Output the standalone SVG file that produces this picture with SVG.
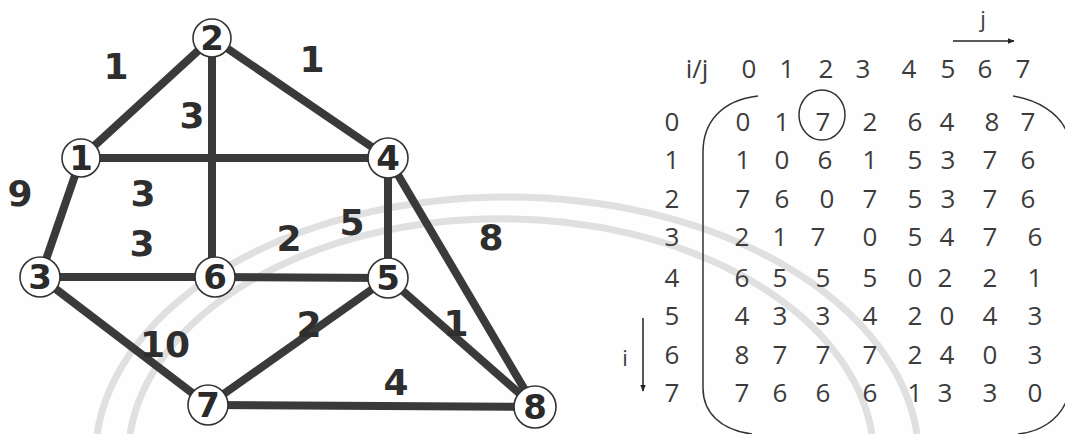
<svg xmlns="http://www.w3.org/2000/svg" width="1065" height="434" viewBox="0 0 1065 434">
<style>
.bg{fill:#fefefe}
.wm{fill:none;stroke:#e0e0e0;stroke-width:7}
.e{stroke:#3a3a3a;stroke-width:8;stroke-linecap:butt;fill:none}
.n circle{fill:#ffffff;stroke:#333;stroke-width:1.6}
.nt{font-family:"DejaVu Sans",sans-serif;font-weight:bold;font-size:34px;fill:#2a2a2a;text-anchor:middle}
.el{font-family:"DejaVu Sans",sans-serif;font-weight:bold;font-size:36px;fill:#2e2e2e;text-anchor:middle}
.m{font-family:"Open Sans","Noto Sans",sans-serif;font-size:26px;fill:#3c3c3c;text-anchor:middle}
.br{fill:none;stroke:#333;stroke-width:1.5}
</style>
<defs>
<marker id="ah" viewBox="0 0 10 10" refX="9" refY="5" markerWidth="7" markerHeight="7" orient="auto" markerUnits="userSpaceOnUse">
<path d="M0,1 L10,5 L0,9 z" fill="#222"/>
</marker>
</defs>
<rect class="bg" x="0" y="0" width="1065" height="434"/>
<g id="watermark">
<path class="wm" d="M 97 434 A 412 263 0 0 1 917 434"/>
<path class="wm" d="M 130 434 A 373 240 0 0 1 872 434"/>
</g>
<g id="connectors">
<line class="e" x1="81" y1="158" x2="212" y2="38"/>
<line class="e" x1="212" y1="38" x2="388" y2="158"/>
<line class="e" x1="212" y1="38" x2="212" y2="277"/>
<line class="e" x1="81" y1="158" x2="388" y2="158"/>
<line class="e" x1="81" y1="158" x2="40" y2="277"/>
<line class="e" x1="40" y1="277" x2="215" y2="277"/>
<line class="e" x1="215" y1="277" x2="388" y2="278"/>
<line class="e" x1="388" y1="158" x2="388" y2="278"/>
<line class="e" x1="388" y1="158" x2="535" y2="407"/>
<line class="e" x1="40" y1="277" x2="208" y2="405"/>
<line class="e" x1="208" y1="405" x2="388" y2="278"/>
<line class="e" x1="388" y1="278" x2="535" y2="407"/>
<line class="e" x1="208" y1="405" x2="535" y2="407"/>
</g>
<g id="edge-labels">
<text class="el" x="116" y="79">1</text>
<text class="el" x="312" y="72">1</text>
<text class="el" x="192" y="128">3</text>
<text class="el" x="20" y="206">9</text>
<text class="el" x="143" y="206">3</text>
<text class="el" x="142" y="256">3</text>
<text class="el" x="289" y="251">2</text>
<text class="el" x="352" y="235">5</text>
<text class="el" x="491" y="250">8</text>
<text class="el" x="165" y="357">10</text>
<text class="el" x="309" y="337">2</text>
<text class="el" x="456" y="336">1</text>
<text class="el" x="396" y="395">4</text>
</g>
<g id="node-1" class="n"><circle cx="81" cy="158" r="19"/><text class="nt" x="81" y="170">1</text></g>
<g id="node-2" class="n"><circle cx="212" cy="38" r="19"/><text class="nt" x="212" y="50">2</text></g>
<g id="node-3" class="n"><circle cx="40" cy="277" r="20"/><text class="nt" x="40" y="289">3</text></g>
<g id="node-4" class="n"><circle cx="388" cy="158" r="20"/><text class="nt" x="388" y="170">4</text></g>
<g id="node-5" class="n"><circle cx="388" cy="278" r="20"/><text class="nt" x="388" y="290">5</text></g>
<g id="node-6" class="n"><circle cx="215" cy="277" r="20"/><text class="nt" x="215" y="289">6</text></g>
<g id="node-7" class="n"><circle cx="208" cy="405" r="20"/><text class="nt" x="208" y="417">7</text></g>
<g id="node-8" class="n"><circle cx="535" cy="407" r="21"/><text class="nt" x="535" y="419">8</text></g>
<g id="matrix">
<text class="m" x="983" y="27" style="font-size:22px">j</text>
<line x1="953" y1="41" x2="1014" y2="41" stroke="#222" stroke-width="1.5" marker-end="url(#ah)"/>
<text class="m" x="625" y="366" style="font-size:22px">i</text>
<line x1="643" y1="318" x2="643" y2="391" stroke="#222" stroke-width="1.5" marker-end="url(#ah)"/>
<text class="m" x="697" y="78">i/j</text>
<text class="m" y="78"><tspan x="749">0</tspan><tspan x="787">1</tspan><tspan x="826">2</tspan><tspan x="863">3</tspan><tspan x="909">4</tspan><tspan x="948">5</tspan><tspan x="985">6</tspan><tspan x="1023">7</tspan></text>
<text class="m" x="672" y="131">0</text>
<text class="m" x="672" y="169">1</text>
<text class="m" x="672" y="208">2</text>
<text class="m" x="672" y="246">3</text>
<text class="m" x="672" y="287">4</text>
<text class="m" x="672" y="325">5</text>
<text class="m" x="672" y="364">6</text>
<text class="m" x="672" y="402">7</text>
<text class="m" y="131"><tspan x="743">0</tspan><tspan x="782">1</tspan><tspan x="823">7</tspan><tspan x="870">2</tspan><tspan x="915">6</tspan><tspan x="947">4</tspan><tspan x="992">8</tspan><tspan x="1028">7</tspan></text>
<text class="m" y="169"><tspan x="743">1</tspan><tspan x="782">0</tspan><tspan x="825">6</tspan><tspan x="870">1</tspan><tspan x="915">5</tspan><tspan x="948">3</tspan><tspan x="990">7</tspan><tspan x="1028">6</tspan></text>
<text class="m" y="208"><tspan x="743">7</tspan><tspan x="782">6</tspan><tspan x="827">0</tspan><tspan x="870">7</tspan><tspan x="915">5</tspan><tspan x="948">3</tspan><tspan x="990">7</tspan><tspan x="1028">6</tspan></text>
<text class="m" y="246"><tspan x="742">2</tspan><tspan x="780">1</tspan><tspan x="818">7</tspan><tspan x="870">0</tspan><tspan x="915">5</tspan><tspan x="947">4</tspan><tspan x="990">7</tspan><tspan x="1035">6</tspan></text>
<text class="m" y="287"><tspan x="742">6</tspan><tspan x="780">5</tspan><tspan x="823">5</tspan><tspan x="870">5</tspan><tspan x="915">0</tspan><tspan x="945">2</tspan><tspan x="990">2</tspan><tspan x="1035">1</tspan></text>
<text class="m" y="325"><tspan x="742">4</tspan><tspan x="780">3</tspan><tspan x="823">3</tspan><tspan x="870">4</tspan><tspan x="915">2</tspan><tspan x="947">0</tspan><tspan x="990">4</tspan><tspan x="1035">3</tspan></text>
<text class="m" y="364"><tspan x="742">8</tspan><tspan x="780">7</tspan><tspan x="823">7</tspan><tspan x="870">7</tspan><tspan x="915">2</tspan><tspan x="947">4</tspan><tspan x="990">0</tspan><tspan x="1035">3</tspan></text>
<text class="m" y="402"><tspan x="742">7</tspan><tspan x="780">6</tspan><tspan x="823">6</tspan><tspan x="870">6</tspan><tspan x="915">1</tspan><tspan x="945">3</tspan><tspan x="990">3</tspan><tspan x="1035">0</tspan></text>
<ellipse cx="822" cy="115" rx="23" ry="25" class="br"/>
<path class="br" d="M 758 96 C 722 100 703 122 703 152 L 703 388 C 703 412 720 430 752 434"/>
<path class="br" d="M 1013 96 C 1038 100 1058 113 1066 130"/>
<path class="br" d="M 1066 402 C 1058 420 1040 432 1018 434"/>
</g>
</svg>
